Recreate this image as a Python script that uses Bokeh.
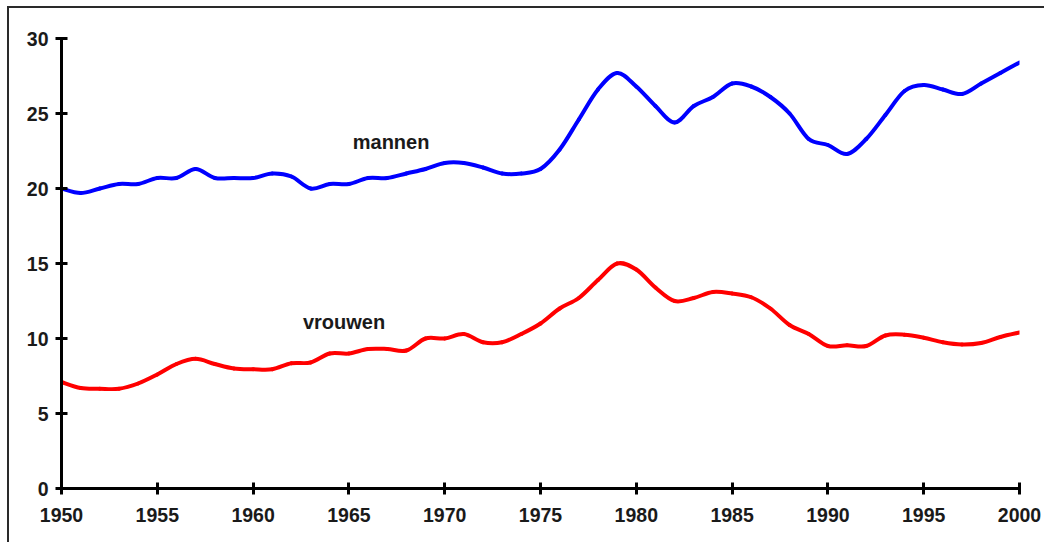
from bokeh.plotting import figure
from bokeh.models import Range1d, FixedTicker, ColumnDataSource
from bokeh.core.properties import value
from bokeh.embed import file_html
from bokeh.resources import INLINE

years = list(range(1950, 2001))
mannen = [20.0, 19.7, 20.0, 20.3, 20.3, 20.7, 20.7, 21.3, 20.7, 20.7,
          20.7, 21.0, 20.8, 20.0, 20.3, 20.3, 20.7, 20.7, 21.0, 21.3,
          21.7, 21.7, 21.4, 21.0, 21.0, 21.3, 22.6, 24.6, 26.6, 27.7,
          26.8, 25.5, 24.4, 25.5, 26.1, 27.0, 26.8, 26.1, 25.0, 23.3,
          22.9, 22.3, 23.3, 24.9, 26.5, 26.9, 26.6, 26.3, 27.0, 27.7,
          28.4]
vrouwen = [7.1, 6.7, 6.65, 6.65, 7.0, 7.6, 8.3, 8.65, 8.3, 8.0,
           7.95, 7.95, 8.35, 8.4, 9.0, 9.0, 9.3, 9.3, 9.2, 10.0,
           10.0, 10.3, 9.75, 9.75, 10.3, 11.0, 12.0, 12.7, 13.9, 15.0,
           14.6, 13.4, 12.5, 12.7, 13.1, 13.0, 12.75, 12.0, 10.9, 10.3,
           9.5, 9.55, 9.5, 10.2, 10.25, 10.05, 9.75, 9.6, 9.7, 10.1,
           10.4]
x_ticks = [1950, 1955, 1960, 1965, 1970, 1975, 1980, 1985, 1990, 1995, 2000]
y_ticks = [0, 5, 10, 15, 20, 25, 30]
series_labels = ["mannen", "vrouwen"]
label_x = [1965.2, 1962.6]
label_y = [23.07, 11.07]


def smooth_segments(xs, ys):
    """Cubic Bezier segments (Catmull-Rom style) through every data point."""
    n = len(xs)
    out = dict(x0=[], y0=[], x1=[], y1=[], cx0=[], cy0=[], cx1=[], cy1=[])
    for i in range(n - 1):
        xp, yp = (xs[i - 1], ys[i - 1]) if i > 0 else (xs[i], ys[i])
        xn, yn = (xs[i + 2], ys[i + 2]) if i + 2 < n else (xs[i + 1], ys[i + 1])
        out["x0"].append(xs[i]); out["y0"].append(ys[i])
        out["x1"].append(xs[i + 1]); out["y1"].append(ys[i + 1])
        out["cx0"].append(xs[i] + (xs[i + 1] - xp) / 6)
        out["cy0"].append(ys[i] + (ys[i + 1] - yp) / 6)
        out["cx1"].append(xs[i + 1] - (xn - xs[i]) / 6)
        out["cy1"].append(ys[i + 1] - (yn - ys[i]) / 6)
    return ColumnDataSource(out)


p = figure(width=1037, height=536, output_backend="svg", toolbar_location=None,
           x_range=Range1d(1950, 2000), y_range=Range1d(0, 30),
           min_border_left=52, min_border_right=27, min_border_top=30,
           min_border_bottom=56)
p.styles = {"border-top": "2px solid #2a2a2a", "border-left": "2px solid #2a2a2a",
            "margin-top": "6px", "margin-left": "7px"}
p.outline_line_color = None
p.xgrid.visible = False
p.ygrid.visible = False
p.background_fill_color = "white"
p.border_fill_color = "white"

for ys, col in ((mannen, "#0000FF"), (vrouwen, "#FF0000")):
    p.bezier(x0="x0", y0="y0", x1="x1", y1="y1", cx0="cx0", cy0="cy0",
             cx1="cx1", cy1="cy1", source=smooth_segments(years, ys),
             line_color=col, line_width=4, line_cap="round")

p.text(x=label_x, y=label_y, text=series_labels, text_font=value("Liberation Sans"),
       text_font_size="20px", text_font_style="bold", text_color="#1a1a1a",
       text_baseline="alphabetic", text_align="left")

for ax, ticks in ((p.xaxis[0], x_ticks), (p.yaxis[0], y_ticks)):
    ax.ticker = FixedTicker(ticks=ticks)
    ax.axis_line_width = 3
    ax.axis_line_color = "black"
    ax.major_tick_line_width = 3
    ax.major_tick_line_color = "black"
    ax.major_tick_in = 6
    ax.major_tick_out = 6
    ax.minor_tick_line_color = None
    ax.major_label_text_font = "Liberation Sans"
    ax.major_label_text_font_size = "19.5px"
    ax.major_label_text_font_style = "bold"
    ax.major_label_text_color = "#1a1a1a"
p.xaxis[0].major_label_standoff = 13
p.yaxis[0].major_label_standoff = 7

open("out.html", "w").write(file_html(p, INLINE))
